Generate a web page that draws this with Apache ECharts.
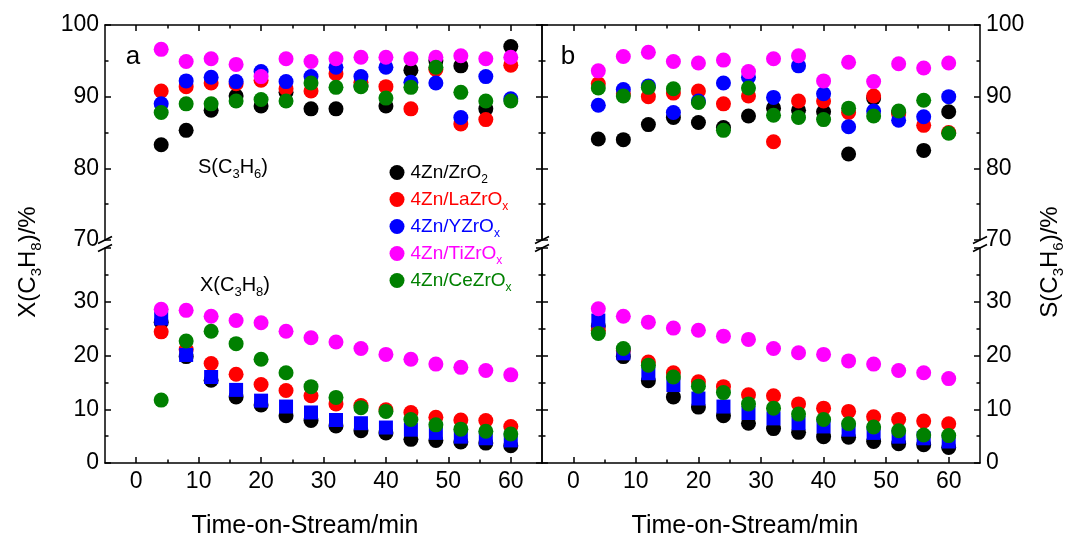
<!DOCTYPE html>
<html>
<head>
<meta charset="utf-8">
<title>Time-on-Stream</title>
<script src="https://cdn.jsdelivr.net/npm/echarts@6/dist/echarts.min.js"></script>
<style>
  html, body { margin: 0; padding: 0; background: #fff; }
  #chart { width: 1075px; height: 540px; }
</style>
</head>
<body>
<div id="chart"></div>
<script>
// Sampling times (min)
const times = [4, 8, 12, 16, 20, 24, 28, 32, 36, 40, 44, 48, 52, 56, 60];
const xMajorTicks = [0, 10, 20, 30, 40, 50, 60];
const xMinorTicks = [5, 15, 25, 35, 45, 55];

const seriesNames = ['4Zn/ZrO2', '4Zn/LaZrOx', '4Zn/YZrOx', '4Zn/TiZrOx', '4Zn/CeZrOx'];
const seriesColors = ['#000000', '#ff0000', '#0000ff', '#ff00ff', '#008000'];

// Panel a: propylene selectivity S(C3H6) /%
const selA_ZrO2  = [83.3, 85.3, 88.1, 90.1, 88.7, 90.6, 88.3, 88.3, 91.5, 88.7, 93.7, 95.0, 94.3, 88.3, 97.0];
const selA_LaZrO = [90.8, 91.4, 91.9, 91.8, 92.3, 91.1, 90.8, 93.2, 92.0, 91.4, 88.3, 93.8, 86.2, 86.8, 94.4];
const selA_YZrO  = [89.0, 92.2, 92.7, 92.1, 93.5, 92.1, 92.8, 94.1, 92.8, 94.1, 92.0, 91.9, 87.1, 92.8, 89.7];
const selA_TiZrO = [96.6, 94.9, 95.3, 94.5, 92.8, 95.3, 94.9, 95.3, 95.5, 95.5, 95.3, 95.5, 95.7, 95.3, 95.5];
const selA_CeZrO = [87.8, 89.0, 89.0, 89.4, 89.6, 89.4, 91.9, 91.3, 91.4, 89.8, 91.3, 94.1, 90.6, 89.4, 89.4];

// Panel a: propane conversion X(C3H8) /%
const convA_ZrO2  = [26.2, 19.8, 15.4, 12.3, 10.8, 8.8, 7.9, 6.9, 6.0, 5.6, 4.4, 4.2, 3.9, 3.7, 3.2];
const convA_LaZrO = [24.4, 21.1, 18.5, 16.5, 14.6, 13.5, 12.5, 11.0, 10.7, 9.9, 9.4, 8.5, 8.0, 7.9, 6.8];
const convA_YZrO  = [26.9, 20.1, 16.0, 13.6, 11.6, 10.5, 9.4, 8.0, 7.4, 6.6, 6.2, 5.6, 4.9, 4.6, 4.2];
const convA_TiZrO = [28.6, 28.4, 27.3, 26.5, 26.1, 24.5, 23.3, 22.5, 21.3, 20.2, 19.3, 18.4, 17.8, 17.2, 16.4];
const convA_CeZrO = [11.7, 22.7, 24.5, 22.2, 19.3, 16.8, 14.2, 12.2, 10.3, 9.6, 8.1, 7.1, 6.3, 5.9, 5.4];

// Panel b: propylene selectivity S(C3H6) /%
const selB_ZrO2  = [84.1, 84.0, 86.1, 87.1, 86.4, 85.7, 87.3, 88.4, 88.1, 87.9, 82.0, 89.8, 87.8, 82.5, 87.9];
const selB_LaZrO = [91.8, 90.4, 90.0, 90.5, 90.8, 89.0, 90.1, 83.7, 89.4, 89.4, 87.8, 90.1, 87.6, 86.0, 85.0];
const selB_YZrO  = [88.8, 91.0, 91.5, 87.8, 89.4, 91.9, 92.7, 89.9, 94.3, 90.4, 85.8, 88.0, 86.7, 87.2, 90.0];
const selB_TiZrO = [93.6, 95.6, 96.2, 94.9, 94.7, 95.1, 93.5, 95.3, 95.7, 92.2, 94.8, 92.1, 94.6, 94.0, 94.7];
const selB_CeZrO = [91.2, 90.1, 91.3, 91.1, 89.2, 85.3, 91.2, 87.4, 87.1, 86.8, 88.4, 87.3, 88.0, 89.5, 84.9];

// Panel b: propane conversion X(C3H8) /%
const convB_ZrO2  = [25.5, 19.8, 15.3, 12.3, 10.4, 8.8, 7.4, 6.4, 5.7, 4.9, 4.8, 4.0, 3.6, 3.4, 2.9];
const convB_LaZrO = [24.7, 20.9, 18.8, 16.8, 15.1, 14.2, 12.7, 12.5, 11.0, 10.2, 9.6, 8.6, 8.1, 7.8, 7.3];
const convB_YZrO  = [26.5, 20.4, 16.7, 14.5, 12.0, 10.5, 9.3, 8.3, 7.4, 6.8, 6.2, 5.6, 4.9, 4.6, 4.0];
const convB_TiZrO = [28.7, 27.3, 26.2, 25.1, 24.7, 23.6, 23.0, 21.3, 20.5, 20.2, 19.0, 18.4, 17.2, 16.8, 15.7];
const convB_CeZrO = [24.1, 21.3, 18.2, 16.0, 14.3, 13.1, 11.0, 10.2, 9.1, 8.1, 7.3, 6.7, 6.0, 5.2, 5.1];

const FONT = '"Liberation Sans", Arial, Helvetica, sans-serif';
const LINE = { color: '#000', width: 1.5 };
const TICK_FONT = 23;

// Grid geometry: two panels, each with an upper (selectivity) and lower (conversion) part
const panelLeft = [105, 542];
const panelWidth = [437, 438];
const upperTop = 25, upperBottom = 240;
const lowerTop = 248, lowerBottom = 463;

const grids = [];
const xAxes = [];
const yAxes = [];
const series = [];

function subRich(baseSize, subSize, lh) {
  return {
    n: { fontSize: baseSize, fontFamily: FONT, lineHeight: lh, verticalAlign: 'middle' },
    s: { fontSize: subSize, fontFamily: FONT, lineHeight: subSize + 2, verticalAlign: 'bottom' }
  };
}
function richName(name) {
  return '{n|' + name.slice(0, -1) + '}{s|' + name.slice(-1) + '}';
}

const panels = [
  { sel: [selA_ZrO2, selA_LaZrO, selA_YZrO, selA_TiZrO, selA_CeZrO],
    conv: [convA_ZrO2, convA_LaZrO, convA_YZrO, convA_TiZrO, convA_CeZrO] },
  { sel: [selB_ZrO2, selB_LaZrO, selB_YZrO, selB_TiZrO, selB_CeZrO],
    conv: [convB_ZrO2, convB_LaZrO, convB_YZrO, convB_TiZrO, convB_CeZrO] }
];

panels.forEach((panel, p) => {
  ['upper', 'lower'].forEach((part) => {
    const g = grids.length;
    const isLower = part === 'lower';
    grids.push({
      left: panelLeft[p], width: panelWidth[p],
      top: isLower ? lowerTop : upperTop,
      height: isLower ? (lowerBottom - lowerTop) : (upperBottom - upperTop),
      containLabel: false
    });
    // major x ticks (with labels on the lower part)
    xAxes.push({
      type: 'value', gridIndex: g, min: -5, max: 65,
      position: isLower ? 'bottom' : 'top',
      axisLine: { show: true, onZero: false, lineStyle: LINE },
      axisTick: { show: true, inside: true, length: 6, customValues: xMajorTicks, lineStyle: LINE },
      axisLabel: { show: isLower, customValues: xMajorTicks, fontSize: TICK_FONT, fontFamily: FONT, color: '#000', margin: 7 },
      splitLine: { show: false }
    });
    // minor x ticks
    xAxes.push({
      type: 'value', gridIndex: g, min: -5, max: 65,
      position: isLower ? 'bottom' : 'top',
      axisLine: { show: false, onZero: false },
      axisTick: { show: true, inside: true, length: 3.5, customValues: xMinorTicks, lineStyle: LINE },
      axisLabel: { show: false },
      splitLine: { show: false }
    });
    const yBase = isLower
      ? { min: 0, max: 40, interval: 10 }
      : { min: 70, max: 100, interval: 10 };
    ['left', 'right'].forEach((side) => {
      const showLabel = (p === 0 && side === 'left') || (p === 1 && side === 'right');
      yAxes.push(Object.assign({
        type: 'value', gridIndex: g, position: side,
        axisLine: { show: true, onZero: false, lineStyle: LINE },
        axisTick: { show: true, inside: true, length: 6, lineStyle: LINE },
        minorTick: { show: true, splitNumber: 2, length: 3.5, lineStyle: LINE },
        axisLabel: {
          show: showLabel, fontSize: TICK_FONT, fontFamily: FONT, color: '#000', margin: 6,
          formatter: (v) => (isLower && v === 40) ? '' : String(v)
        },
        splitLine: { show: false }
      }, yBase));
    });
    const values = isLower ? panel.conv : panel.sel;
    values.forEach((vals, k) => {
      const isRect = isLower && k === 2;
      series.push({
        type: 'scatter', name: seriesNames[k],
        xAxisIndex: g * 2, yAxisIndex: g * 2,
        symbol: isRect ? 'rect' : 'circle',
        symbolSize: isRect ? 14 : 15,
        itemStyle: { color: seriesColors[k], opacity: 1 },
        emphasis: { disabled: true },
        data: times.map((t, i) => [t, vals[i]])
      });
    });
  });
});

// Axis break marks ("//") on the three vertical frame lines
const breakMarks = [];
[105, 542, 980].forEach((x) => {
  [upperBottom, lowerTop].forEach((y) => {
    breakMarks.push({
      type: 'line', silent: true,
      shape: { x1: x - 7, y1: y + 3.5, x2: x + 7, y2: y - 3.5 },
      style: { stroke: '#000', lineWidth: 1.8 }
    });
  });
});

function richText(x, y, text, size, subSize, extra) {
  return Object.assign({
    type: 'text', x: x, y: y, silent: true,
    style: {
      text: text, fill: '#000', align: 'center', verticalAlign: 'middle',
      rich: subRich(size, subSize, size + 8)
    }
  }, extra || {});
}

const texts = [
  { type: 'text', x: 133, y: 57, silent: true,
    style: { text: 'a', fontSize: 26, fontFamily: FONT, fill: '#000', align: 'center', verticalAlign: 'middle' } },
  { type: 'text', x: 568, y: 57, silent: true,
    style: { text: 'b', fontSize: 26, fontFamily: FONT, fill: '#000', align: 'center', verticalAlign: 'middle' } },
  richText(233, 167, '{n|S(C}{s|3}{n|H}{s|6}{n|)}', 20, 13),
  richText(235, 285, '{n|X(C}{s|3}{n|H}{s|8}{n|)}', 20, 13),
  richText(28, 262, '{n|X(C}{s|3}{n|H}{s|8}{n|)/%}', 24, 15, { rotation: Math.PI / 2 }),
  richText(1050, 262, '{n|S(C}{s|3}{n|H}{s|6}{n|)/%}', 24, 15, { rotation: Math.PI / 2 }),
  { type: 'text', x: 305, y: 526, silent: true,
    style: { text: 'Time-on-Stream/min', fontSize: 25, fontFamily: FONT, fill: '#000', align: 'center', verticalAlign: 'middle' } },
  { type: 'text', x: 745, y: 526, silent: true,
    style: { text: 'Time-on-Stream/min', fontSize: 25, fontFamily: FONT, fill: '#000', align: 'center', verticalAlign: 'middle' } }
];

const legendRich = {
  n: { fontSize: 19, fontFamily: FONT, lineHeight: 26, verticalAlign: 'middle', padding: [0, 0, 0, 1] },
  s: { fontSize: 12, fontFamily: FONT, lineHeight: 14, verticalAlign: 'bottom' }
};

const chart = echarts.init(document.getElementById('chart'), null, { renderer: 'canvas' });
chart.setOption({
  animation: false,
  backgroundColor: '#ffffff',
  textStyle: { fontFamily: FONT },
  grid: grids,
  xAxis: xAxes,
  yAxis: yAxes,
  legend: {
    orient: 'vertical', left: 384.5, top: 158,
    itemWidth: 15, itemHeight: 15, itemGap: 4.5,
    icon: 'circle', selectedMode: false,
    data: seriesNames.map((n, i) => ({ name: n, textStyle: { color: seriesColors[i] } })),
    formatter: richName,
    textStyle: { fontSize: 19, fontFamily: FONT, rich: legendRich }
  },
  series: series,
  graphic: breakMarks.concat(texts)
});
</script>
</body>
</html>
